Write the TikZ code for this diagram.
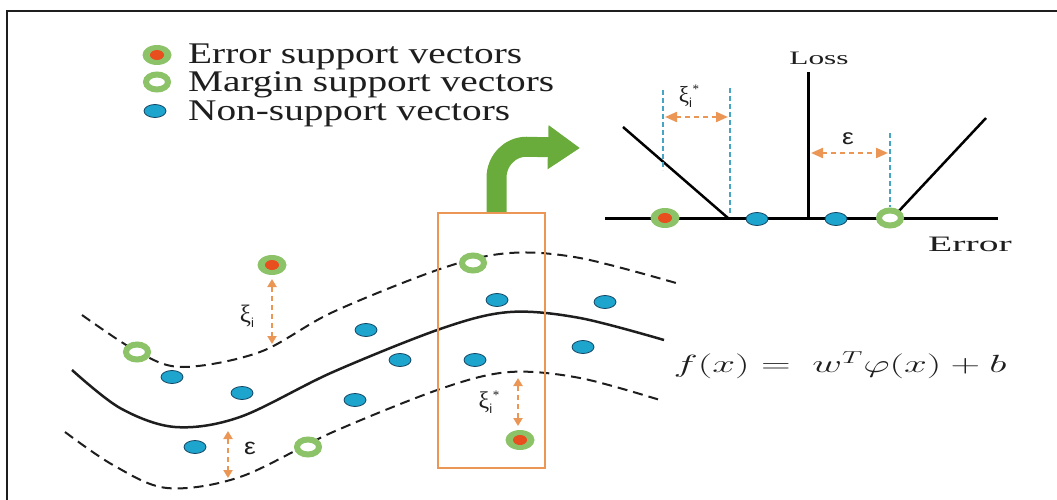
\documentclass[tikz,border=0pt]{standalone}
\usepackage{fontspec}
\setmainfont{Liberation Serif}
\newfontfamily\lsans{Liberation Sans}
\usetikzlibrary{arrows.meta,shapes.geometric}
\definecolor{svgreen}{RGB}{140,195,105}
\definecolor{svred}{RGB}{232,78,30}
\definecolor{nsblue}{RGB}{30,165,205}
\definecolor{nsedge}{RGB}{20,70,100}
\definecolor{boxorange}{RGB}{235,150,85}
\definecolor{arrowgreen}{RGB}{106,172,60}
\definecolor{tubeteal}{RGB}{70,165,195}
\definecolor{ink}{RGB}{30,30,30}
% wide lettering
\newcommand{\widen}[2]{\scalebox{#1}[1]{#2}}
% slack symbols with a sans subscript
\newcommand{\xisub}[1]{ξ\raisebox{-5pt}{\lsans\fontsize{13}{13}\selectfont #1}}
\newcommand{\xistar}{ξ\raisebox{-5pt}{\lsans\fontsize{13}{13}\selectfont i}\kern0.5pt\raisebox{9pt}{\fontsize{13}{13}\selectfont *}}
\begin{document}
\begin{tikzpicture}[x=1pt,y=-1pt,
  errsv/.style={ellipse, fill=svgreen, minimum width=29pt, minimum height=20pt, inner sep=0pt,
    path picture={\fill[svred] (path picture bounding box.center) ellipse [x radius=7pt, y radius=5pt];}},
  marsv/.style={ellipse, draw=svgreen, line width=6pt, fill=white, minimum width=22pt, minimum height=15pt, inner sep=0pt},
  nonsv/.style={ellipse, draw=nsedge, line width=0.8pt, fill=nsblue, minimum width=22pt, minimum height=13pt, inner sep=0pt},
  legtext/.style={anchor=base west, text=ink, font=\fontsize{30}{30}\selectfont, inner sep=0pt,
    text height=20pt, text depth=3pt},
  lbl/.style={text=ink, inner sep=0pt},
  tube/.style={ink, line width=2pt, dash pattern=on 10pt off 6pt},
  regline/.style={ink, line width=2.5pt},
  gap/.style={boxorange, line width=2.2pt, dash pattern=on 5pt off 4pt,
    {Triangle[width=9pt,length=8pt]}-{Triangle[width=9pt,length=8pt]}},
  hgap/.style={gap, {Triangle[width=10pt,length=12pt]}-{Triangle[width=10pt,length=12pt]}},
  guide/.style={tubeteal, line width=2.5pt, dash pattern=on 5pt off 3pt},
  axisline/.style={black, line width=3pt},
]
\useasboundingbox (0,0) rectangle (1057,500);

% frame
\draw[ink, line width=2pt] (7,500) -- (7,11) -- (1057,11);

% legend
\node[errsv] (le) at (157,55) {};
\node[marsv] (lm) at (157,82) {};
\node[nonsv] (ln) at (155,111) {};
\node[legtext] (lte) at (188,64) {\widen{1.31}{Error support vectors}};
\node[legtext] (ltm) at (188,92) {\widen{1.31}{Margin support vectors}};
\node[legtext] (ltn) at (188,120.5) {\widen{1.31}{Non-support vectors}};

% regression curve and epsilon tube
\draw[regline] plot[smooth, tension=0.55] coordinates
  {(72,370) (120,408) (175,427) (240,417) (333,372) (443,328) (510,312) (580,318) (664,340)};
\draw[tube] plot[smooth, tension=0.55] coordinates
  {(82,315) (138,352) (183,367) (260,352) (333,312) (443,268) (510,253) (580,258) (676,283)};
\draw[tube] plot[smooth, tension=0.55] coordinates
  {(65,432) (113,465) (167,488) (240,477) (333,432) (443,388) (510,372) (580,378) (660,400)};

% highlighted slice and the arrow to the loss plot
\node[draw=boxorange, line width=2.5pt, minimum width=107pt, minimum height=255pt, inner sep=0pt] (box) at (491.5,340.5) {};
\coordinate (gstem) at ([xshift=5pt]box.north);
\draw[arrowgreen, line width=20pt, -{Triangle[width=42pt,length=32pt]}]
  (gstem) -- ++(0,-34) to[out=90,in=180] ++(30,-31) -- (580,148) coordinate (gtip);

% data points
\node[errsv] (e1) at (272,265) {};
\node[errsv] (e2) at (520,440) {};
\node[marsv] (m1) at (137,352) {};
\node[marsv] (m2) at (308,447) {};
\node[marsv] (m3) at (473,263) {};
\foreach \p/\q in {n1/{172,377}, n2/{242,393}, n3/{366,330}, n4/{400,360}, n5/{355,400},
                   n6/{195,447}, n7/{497,300}, n8/{605,302}, n9/{475,360}, n10/{583,347}}
  \node[nonsv] (\p) at (\q) {};

% slack and tube width
\coordinate (xiA) at (272,279);
\coordinate (xiB) at (272,344);
\draw[gap] (xiA) -- (xiB);
\node[lbl, font=\fontsize{25}{25}\selectfont] (xil) at (247,316) {\xisub{i}};
\coordinate (epA) at (228,431);
\coordinate (epB) at (228,478);
\draw[gap] (epA) -- (epB);
\node[lbl, font=\lsans\fontsize{23}{23}\selectfont] (epl) at (250,448) {\widen{1.15}{ε}};
\coordinate (xsA) at (518,378);
\coordinate (xsB) at (518,426);
\draw[gap] (xsA) -- (xsB);
\node[lbl, font=\fontsize{24}{24}\selectfont] (xsl) at (489,402) {\xistar};

% epsilon-insensitive loss
\coordinate (xl) at (605,218);
\coordinate (xr) at (998,218);
\coordinate (org) at (808,218);
\coordinate (yt) at (808,72);
\draw[axisline] (xl) -- (xr);
\draw[axisline] (org) -- (yt);
\node[lbl, font=\fontsize{19}{19}\selectfont] (losslbl) at (819,58) {\widen{1.65}{Loss}};
\node[lbl, font=\fontsize{22}{22}\selectfont] (errlbl) at (970,244) {\widen{1.8}{Error}};
\coordinate (lt) at (623,127);
\coordinate (lb) at (728,218);
\coordinate (rb) at (898,212);
\coordinate (rt) at (986,118);
\draw[black, line width=2.5pt] (lt) -- (lb);
\draw[black, line width=2.5pt] (rb) -- (rt);
\draw[guide] (663,90) coordinate (g1t) -- (663,170) coordinate (g1b);
\draw[guide] (730,88) coordinate (g2t) -- (730,214) coordinate (g2b);
\draw[guide] (890,133) coordinate (g3t) -- (890,207) coordinate (g3b);
\coordinate (hxA) at (665,117);
\coordinate (hxB) at (728,117);
\draw[hgap] (hxA) -- (hxB);
\node[lbl, font=\fontsize{23}{23}\selectfont] (hxl) at (689,96) {\xistar};
\coordinate (heA) at (811,153);
\coordinate (heB) at (888,153);
\draw[hgap] (heA) -- (heB);
\node[lbl, font=\lsans\fontsize{22}{22}\selectfont] (hel) at (848,139) {\widen{1.2}{ε}};
\node[errsv] (ce) at (665,218) {};
\node[nonsv] (cn1) at (757,219) {};
\node[nonsv] (cn2) at (836,219) {};
\node[marsv] (cm) at (890,218) {};

% model
\node[lbl, font=\fontsize{25}{25}\selectfont] (fx) at (840,365) {\widen{1.65}{$f(x) =\ w^{T}\varphi(x) + b$}};
\end{tikzpicture}
\end{document}
